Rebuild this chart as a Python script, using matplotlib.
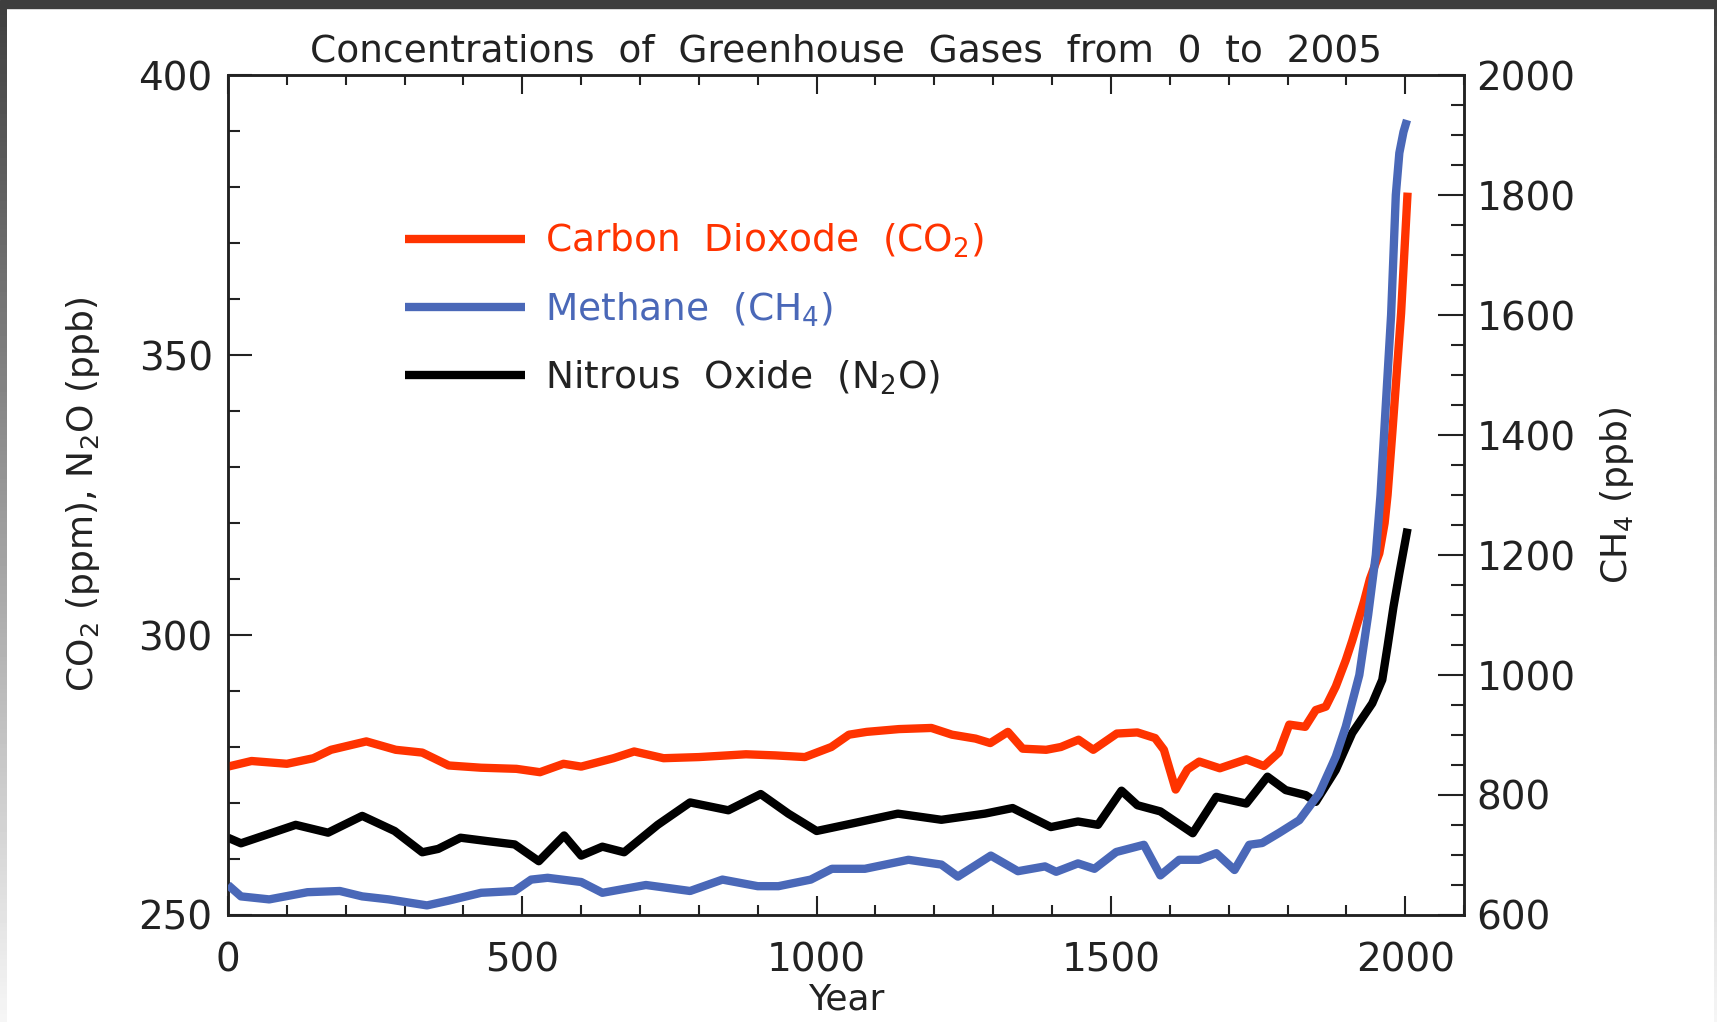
import numpy as np
import matplotlib
matplotlib.use("Agg")
import matplotlib.pyplot as plt
from matplotlib.lines import Line2D
from matplotlib.ticker import MultipleLocator

plt.rcParams["font.family"] = ["DejaVu Sans"]
plt.rcParams["mathtext.fontset"] = "dejavusans"

# ── Data ──────────────────────────────────────────────────────────────
co2_year = [0, 40, 100, 145, 175, 235, 285, 330, 375, 430, 490, 530, 570, 600,
            655, 690, 740, 800, 880, 930, 980, 1025, 1055, 1085, 1140, 1195,
            1230, 1270, 1295, 1325, 1350, 1390, 1415, 1445, 1470, 1510, 1545,
            1575, 1590, 1610, 1630, 1650, 1685, 1730, 1760, 1785, 1803, 1830,
            1848, 1865, 1882, 1899, 1910, 1930, 1940, 1956, 1965, 1970, 1978,
            1985, 1993, 2004]
co2_ppm = [276.5, 277.5, 277.0, 278.0, 279.5, 281.0, 279.5, 279.0, 276.7,
           276.3, 276.1, 275.5, 277.0, 276.5, 278.0, 279.2, 278.0, 278.2,
           278.7, 278.5, 278.2, 280.0, 282.2, 282.7, 283.2, 283.4, 282.2,
           281.5, 280.7, 282.7, 279.7, 279.5, 280.0, 281.3, 279.5, 282.4,
           282.6, 281.6, 279.5, 272.4, 276.0, 277.4, 276.2, 277.8, 276.6,
           279.0, 284.0, 283.6, 286.6, 287.2, 290.8, 295.5, 299.0, 306.0,
           310.0, 314.6, 320.0, 325.0, 336.0, 346.0, 357.5, 379.0]

ch4_year = [0, 22, 70, 135, 190, 228, 273, 338, 375, 430, 487, 515, 543, 600,
            636, 710, 785, 840, 900, 935, 990, 1026, 1082, 1156, 1212, 1240,
            1296, 1342, 1388, 1407, 1444, 1472, 1509, 1556, 1584, 1616, 1650,
            1679, 1710, 1735, 1757, 1786, 1820, 1854, 1882, 1899, 1922, 1937,
            1950, 1958, 1964, 1970, 1976, 1980, 1984, 1990, 1997, 2003]
ch4_ppb = [650, 631, 626, 638, 640, 631, 626, 616, 624, 637, 640, 659, 662,
           655, 637, 650, 640, 659, 648, 648, 659, 677, 677, 692, 684, 664,
           699, 673, 681, 672, 686, 677, 705, 717, 666, 692, 692, 703, 675,
           717, 720, 737, 758, 803, 864, 914, 1000, 1100, 1200, 1300, 1400,
           1500, 1600, 1700, 1800, 1870, 1905, 1925]

n2o_year = [0, 22, 70, 115, 170, 228, 283, 330, 357, 395, 440, 487, 528, 571,
            600, 636, 673, 730, 785, 850, 905, 952, 1000, 1063, 1138, 1212,
            1286, 1333, 1398, 1444, 1478, 1518, 1545, 1584, 1639, 1679, 1730,
            1766, 1797, 1831, 1848, 1882, 1910, 1944, 1961, 1970, 1980, 1990,
            2004]
n2o_ppb = [263.8, 262.8, 264.5, 266.1, 264.7, 267.7, 265.0, 261.2, 261.8,
           263.8, 263.2, 262.6, 259.6, 264.2, 260.6, 262.2, 261.2, 266.1,
           270.1, 268.7, 271.6, 268.1, 265.0, 266.4, 268.1, 267.0, 268.1,
           269.1, 265.7, 266.7, 266.1, 272.2, 269.6, 268.5, 264.6, 271.1,
           269.9, 274.7, 272.3, 271.4, 270.2, 275.9, 282.5, 287.8, 292.0,
           298.0, 305.0, 311.0, 319.0]

RED = "#ff3300"
BLUE = "#4a68b8"
BLACK = "#000000"
TXT = "#222222"
LW = 6.0

fig = plt.figure(figsize=(17.17, 10.22), dpi=100)
fig.patch.set_facecolor("white")
ax = fig.add_axes([0.1328, 0.1047, 0.7199, 0.8219])
ax2 = ax.twinx()

# window frame around the figure
fig.patches.append(plt.Rectangle((0, 1 - 8 / 1022), 1, 8 / 1022,
                                 transform=fig.transFigure, color="#3e3e3e",
                                 zorder=0))
grad = np.linspace(0, 1, 256)[:, None]
for x0, w in [(0, 6 / 1717), (1 - 3 / 1717, 3 / 1717)]:
    sax = fig.add_axes([x0, 0, w, 1 - 8 / 1022])
    sax.imshow(grad, aspect="auto", cmap="gray", vmin=-0.35, vmax=1.05,
               extent=[0, 1, 0, 1], origin="upper")
    sax.set_axis_off()

# ── Curves ────────────────────────────────────────────────────────────
ax.plot(co2_year, co2_ppm, color=RED, lw=LW, solid_capstyle="butt",
        solid_joinstyle="round", zorder=3)
ax.plot(n2o_year, n2o_ppb, color=BLACK, lw=LW, solid_capstyle="butt",
        solid_joinstyle="round", zorder=3)
ax2.plot(ch4_year, ch4_ppb, color=BLUE, lw=LW, solid_capstyle="butt",
         solid_joinstyle="round", zorder=3)

ax.set_xlim(0, 2100)
ax.set_ylim(250, 400)
ax2.set_ylim(600, 2000)

# ── Axes styling ──────────────────────────────────────────────────────
for a in (ax, ax2):
    for s in a.spines.values():
        s.set_linewidth(1.8)
        s.set_color(TXT)

ax.xaxis.set_major_locator(MultipleLocator(500))
ax.xaxis.set_minor_locator(MultipleLocator(100))
ax.yaxis.set_major_locator(MultipleLocator(50))
ax.yaxis.set_minor_locator(MultipleLocator(10))
ax2.yaxis.set_major_locator(MultipleLocator(200))
ax2.yaxis.set_minor_locator(MultipleLocator(50))

ax.tick_params(axis="x", which="both", direction="in", top=True, bottom=True,
               width=1.5, color=TXT, labelsize=28, labelcolor=TXT, pad=19)
ax.tick_params(axis="x", which="major", length=13.5)
ax.tick_params(axis="x", which="minor", length=7)
ax.tick_params(axis="y", which="both", direction="in", left=True, right=False,
               width=1.5, color=TXT, labelsize=28, labelcolor=TXT, pad=11)
ax.tick_params(axis="y", which="major", length=17)
ax.tick_params(axis="y", which="minor", length=8.5)
ax2.tick_params(axis="y", which="both", direction="in", right=True,
                width=1.5, color=TXT, labelsize=28, labelcolor=TXT, pad=9)
ax2.tick_params(axis="y", which="major", length=18.5)
ax2.tick_params(axis="y", which="minor", length=9.5)

ax.set_title("Concentrations  of  Greenhouse  Gases  from  0  to  2005",
             fontsize=27, color=TXT, pad=10)
ax.set_xlabel("Year", fontsize=26, color=TXT, labelpad=2)
ax.set_ylabel("CO$_2$ (ppm), N$_2$O (ppb)", fontsize=26, color=TXT,
              labelpad=26)
ax2.set_ylabel("CH$_4$ (ppb)", fontsize=26, color=TXT, labelpad=16)

# ── Legend ────────────────────────────────────────────────────────────
handles = [Line2D([], [], color=RED, lw=LW, solid_capstyle="butt"),
           Line2D([], [], color=BLUE, lw=LW, solid_capstyle="butt"),
           Line2D([], [], color=BLACK, lw=LW, solid_capstyle="butt")]
labels = ["Carbon  Dioxode  (CO$_2$)", "Methane  (CH$_4$)",
          "Nitrous  Oxide  (N$_2$O)"]
leg = ax2.legend(handles, labels, loc="upper left",
                 bbox_to_anchor=(0.143, 0.825), frameon=False, fontsize=27,
                 handlelength=3.2, handletextpad=0.55, labelspacing=0.8,
                 borderpad=0, borderaxespad=0)
for t, c in zip(leg.get_texts(), [RED, BLUE, TXT]):
    t.set_color(c)

fig.savefig("out.png", dpi=100)
